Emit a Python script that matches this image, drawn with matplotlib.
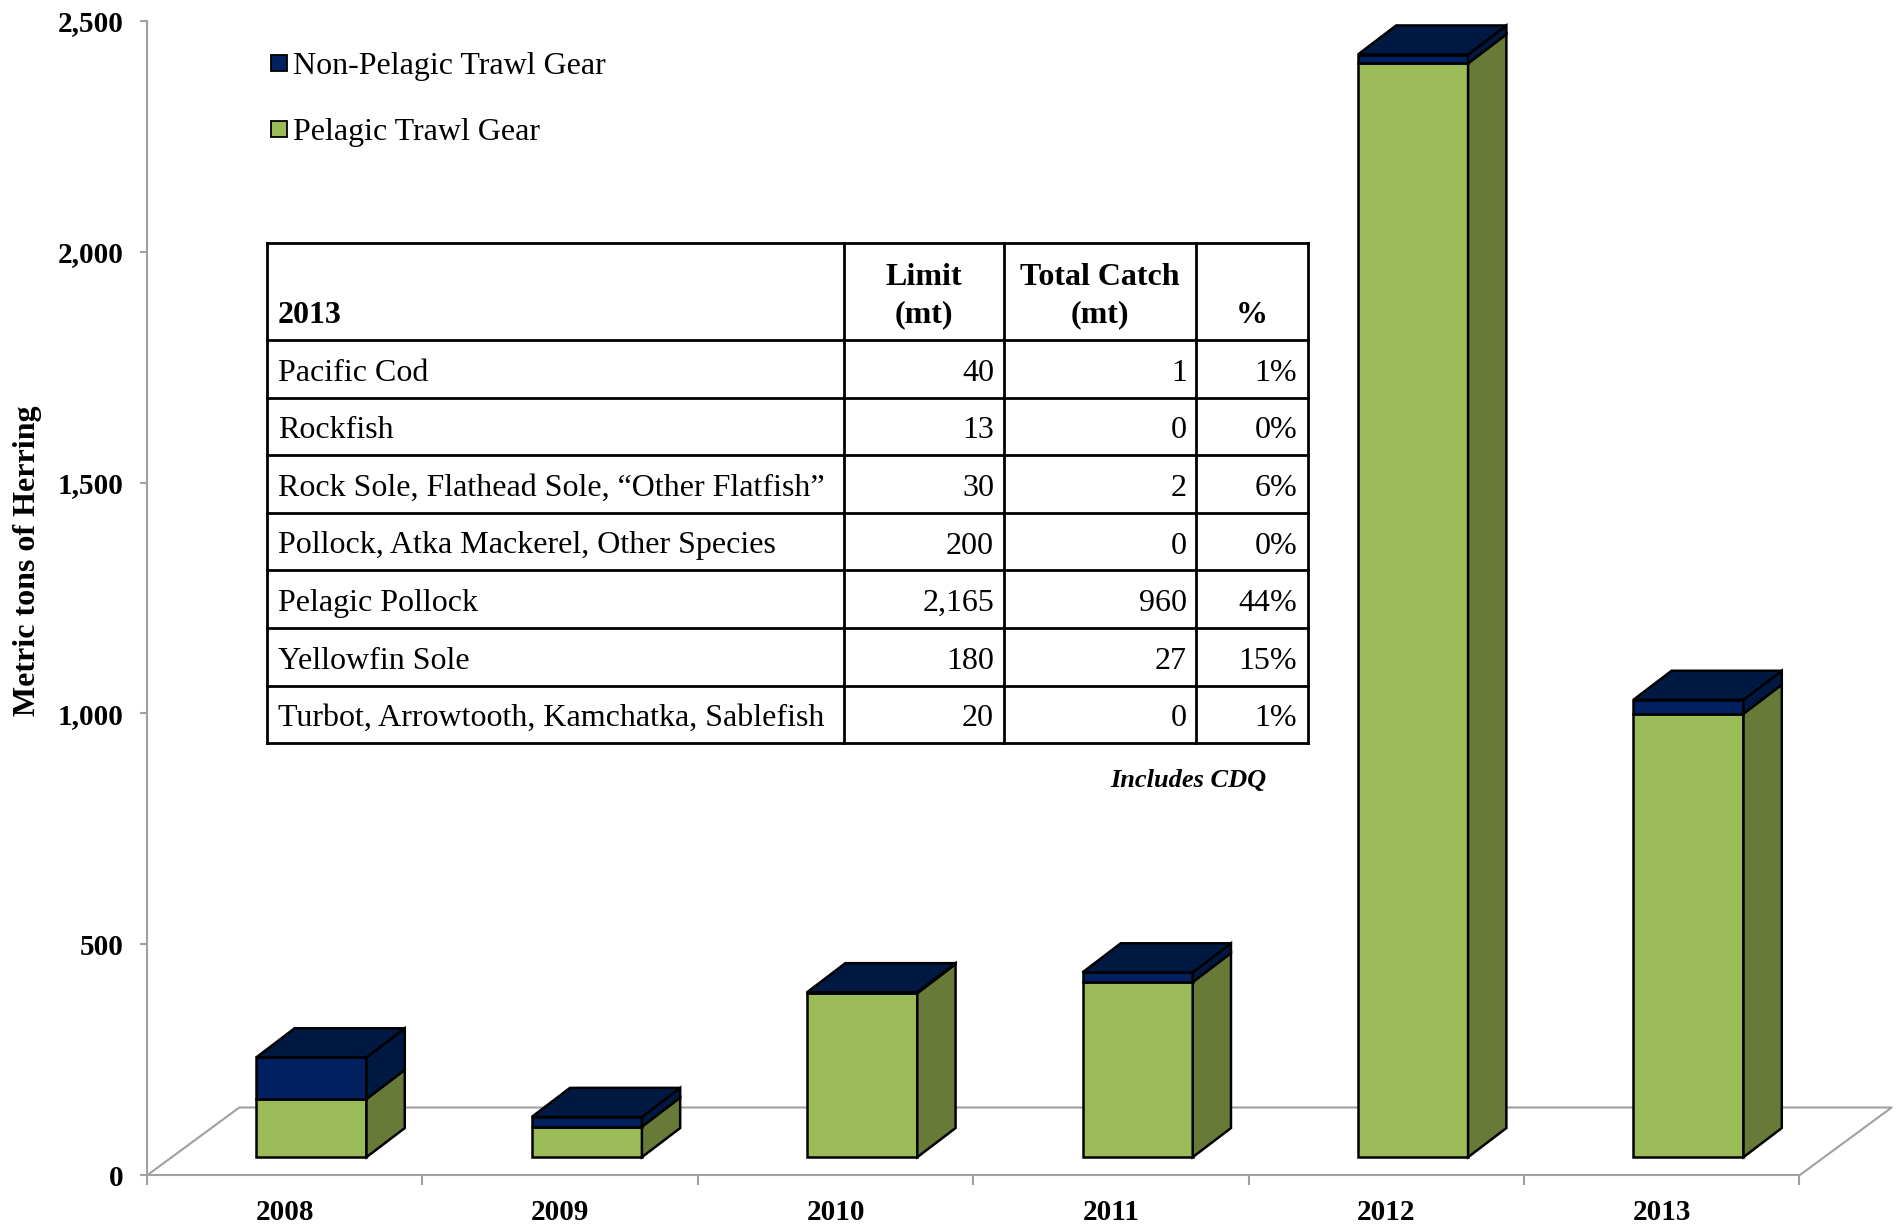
import matplotlib
matplotlib.use('Agg')
import matplotlib.pyplot as plt
from matplotlib.patches import Polygon, Rectangle
from matplotlib.ticker import FuncFormatter, FixedLocator

years = ['2008', '2009', '2010', '2011', '2012', '2013']
pelagic = [126, 66, 355, 379, 2368, 960]
non_pelagic = [90, 21, 2, 21, 19, 30]

species = ['Pacific Cod', 'Rockfish',
           'Rock Sole, Flathead Sole, \u201cOther Flatfish\u201d',
           'Pollock, Atka Mackerel, Other Species', 'Pelagic Pollock',
           'Yellowfin Sole', 'Turbot, Arrowtooth, Kamchatka, Sablefish']
limits = ['40', '13', '30', '200', '2,165', '180', '20']
catches = ['1', '0', '2', '0', '960', '27', '0']
pcts = ['1%', '0%', '6%', '0%', '44%', '15%', '1%']

GREEN, GREEN_SIDE = '#9BBB59', '#677A38'
BLUE, BLUE_DARK = '#002060', '#001943'
GRID_GRAY = '#A0A0A0'
SERIF = 'Liberation Serif'

# oblique 3d geometry, in category / value units
BAR_LEFT, BAR_W = 0.397, 0.40
DX, DY = 0.139, 63
BASE = 39.5
FLOOR_DX, FLOOR_DY = 0.335, 147

W, H = 1904, 1226
fig = plt.figure(figsize=(W / 100, H / 100), dpi=100)
ax = fig.add_axes([147 / W, 1 - 1175.4 / H, 1 - 147 / W, (1175.4 - 20.6) / H])
ax.set_xlim(0, (W - 147) / 275.4)
ax.set_ylim(0, 2500)
for s in ['top', 'right']:
    ax.spines[s].set_visible(False)
for s in ['left', 'bottom']:
    ax.spines[s].set_color(GRID_GRAY)
    ax.spines[s].set_linewidth(1.5)
n = len(years)
ax.spines['bottom'].set_bounds(0, n)

# floor outline
ax.plot([0, FLOOR_DX, n + FLOOR_DX, n], [0, FLOOR_DY, FLOOR_DY, 0],
        color=GRID_GRAY, lw=1.5, zorder=1, clip_on=False)


def box(x0, y0, y1, front, side, top=None):
    kw = dict(ec='black', lw=1.8, joinstyle='miter', zorder=3, clip_on=False)
    x1 = x0 + BAR_W
    ax.add_patch(Polygon([(x0, y0), (x1, y0), (x1, y1), (x0, y1)], fc=front, **kw))
    ax.add_patch(Polygon([(x1, y0), (x1 + DX, y0 + DY), (x1 + DX, y1 + DY), (x1, y1)],
                         fc=side, **kw))
    if top is not None:
        ax.add_patch(Polygon([(x0, y1), (x1, y1), (x1 + DX, y1 + DY), (x0 + DX, y1 + DY)],
                             fc=top, **kw))


for i in range(n):
    x0 = i + BAR_LEFT
    g_top = BASE + pelagic[i]
    b_top = g_top + non_pelagic[i]
    box(x0, BASE, g_top, GREEN, GREEN_SIDE)
    box(x0, g_top, b_top, BLUE, BLUE_DARK, BLUE_DARK)

ax.yaxis.set_major_locator(FixedLocator([0, 500, 1000, 1500, 2000, 2500]))
ax.yaxis.set_major_formatter(FuncFormatter(lambda v, p: f'{int(v):,}'))
ax.tick_params(axis='y', direction='out', length=5, width=1.5, color=GRID_GRAY,
               pad=12, labelsize=21)
ax.set_xticks(range(n + 1))
ax.set_xticklabels([])
ax.set_xticks([i + 0.5 for i in range(n)], minor=True)
ax.set_xticklabels(years, minor=True)
ax.tick_params(axis='x', which='major', direction='out', length=7, width=1.5,
               color=GRID_GRAY)
ax.tick_params(axis='x', which='minor', length=0, pad=17, labelsize=21)
for lab in ax.get_yticklabels() + ax.get_xticklabels(minor=True):
    lab.set_fontfamily(SERIF)
    lab.set_fontweight('bold')

fig.text(28 / W, 1 - 561 / H, 'Metric tons of Herring', rotation=90,
         ha='center', va='center', fontsize=23, fontweight='bold', family=SERIF)

# overlay in pixel coordinates for legend and table
ov = fig.add_axes([0, 0, 1, 1], zorder=5)
ov.set_xlim(0, W)
ov.set_ylim(H, 0)
ov.axis('off')
ov.patch.set_alpha(0)

for (label, color), ty in zip([('Non-Pelagic Trawl Gear', BLUE),
                               ('Pelagic Trawl Gear', GREEN)], [63, 129]):
    ov.add_patch(Rectangle((271, ty - 8), 16, 16, fc=color, ec='black', lw=1.3))
    ov.text(293, ty + 11, label, ha='left', va='baseline', fontsize=23, family=SERIF)

# table
tl, tr = 267, 1308
cols = [tl, 844, 1004, 1196, tr]
t_top, head_bot, row_h = 243, 340, 57.6
n_rows = len(species)
t_bot = head_bot + n_rows * row_h
ov.add_patch(Rectangle((tl, t_top), tr - tl, t_bot - t_top, fc='white', ec='none'))
lw_t = 2.0
for cx in cols:
    ov.plot([cx, cx], [t_top, t_bot], color='black', lw=lw_t, solid_capstyle='projecting')
for k in range(n_rows + 2):
    yy = t_top if k == 0 else head_bot + (k - 1) * row_h
    ov.plot([tl, tr], [yy, yy], color='black', lw=lw_t, solid_capstyle='projecting')

hfont = dict(fontsize=23, fontweight='bold', family=SERIF, va='baseline')
ov.text(278, 323, '2013', ha='left', **hfont)
ov.text(924, 285, 'Limit', ha='center', **hfont)
ov.text(924, 322, '(mt)', ha='center', **hfont)
ov.text(1100, 285, 'Total Catch', ha='center', **hfont)
ov.text(1100, 322, '(mt)', ha='center', **hfont)
ov.text(1252, 323, '%', ha='center', **hfont)

bfont = dict(fontsize=23, family=SERIF, va='baseline')
for k in range(n_rows):
    yb = head_bot + k * row_h + 40.7
    ov.text(278, yb, species[k], ha='left', **bfont)
    ov.text(994, yb, limits[k], ha='right', **bfont)
    ov.text(1187, yb, catches[k], ha='right', **bfont)
    ov.text(1297, yb, pcts[k], ha='right', **bfont)

ov.text(1266, 787, 'Includes CDQ', ha='right', va='baseline', fontsize=19,
        fontweight='bold', fontstyle='italic', family=SERIF)

fig.savefig('out.png', dpi=100)
